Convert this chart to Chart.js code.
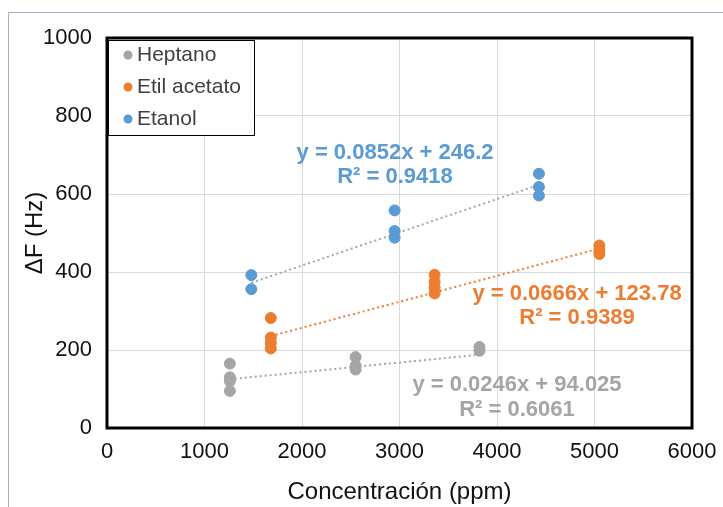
<!DOCTYPE html>
<html>
<head>
<meta charset="utf-8">
<script src="https://cdn.jsdelivr.net/npm/chart.js@4.4.1/dist/chart.umd.min.js"></script>
<style>
  html, body { margin: 0; padding: 0; background: #fff; }
  #wrap { width: 723px; height: 507px; position: relative; }
</style>
</head>
<body>
<div id="wrap"><canvas id="myChart" width="723" height="507"></canvas></div>
<script>
// series values
const seriesNames = ["Heptano", "Etil acetato", "Etanol"];
const seriesColors = ["#a5a5a5", "#ed7d31", "#5b9bd5"];
const trendColors = ["#a5a5a5", "#ed7d31", "#a5a5a5"];

const heptanoX = [1260, 1260, 1260, 1260, 2550, 2550, 2550, 3820, 3820];
const heptanoY = [165, 130, 120, 95, 182, 160, 150, 208, 198];
const etilX = [1680, 1680, 1680, 1680, 3360, 3360, 3360, 3360, 5050, 5050, 5050];
const etilY = [282, 232, 218, 204, 393, 375, 360, 345, 468, 455, 446];
const etanolX = [1480, 1480, 2950, 2950, 2950, 4430, 4430, 4430];
const etanolY = [392, 356, 558, 505, 488, 652, 618, 596];

// fitted trendlines as labelled on the chart
const slopes = [0.0246, 0.0666, 0.0852];
const intercepts = [94.025, 123.78, 246.2];
const equations = ["y = 0.0246x + 94.025", "y = 0.0666x + 123.78", "y = 0.0852x + 246.2"];
const rSquared = ["R² = 0.6061", "R² = 0.9389", "R² = 0.9418"];

const xTicks = [0, 1000, 2000, 3000, 4000, 5000, 6000];
const yTicks = [0, 200, 400, 600, 800, 1000];

const allX = [heptanoX, etilX, etanolX];
const allY = [heptanoY, etilY, etanolY];

const datasets = [];
allX.forEach(function (xs, i) {
  datasets.push({
    label: seriesNames[i],
    data: xs.map(function (x, j) { return { x: x, y: allY[i][j] }; }),
    backgroundColor: seriesColors[i],
    borderColor: seriesColors[i],
    pointRadius: 5.5,
    pointHoverRadius: 5.5,
    showLine: false,
    order: 1,
  });
});
allX.forEach(function (xs, i) {
  const lo = Math.min.apply(null, xs);
  const hi = Math.max.apply(null, xs);
  datasets.push({
    label: "trend " + i,
    data: [
      { x: lo, y: slopes[i] * lo + intercepts[i] },
      { x: hi, y: slopes[i] * hi + intercepts[i] },
    ],
    borderColor: trendColors[i],
    borderWidth: 2,
    borderDash: [2, 3],
    pointRadius: 0,
    showLine: true,
    fill: false,
    order: 2,
  });
});

// trend label centres in data coords: [x, y line 1, y line 2]
const labelSpots = [
  [4205, 110, 46],
  [4821, 344, 282],
  [2954, 705, 644],
];

const font = "'Liberation Sans', Arial, sans-serif";

const decor = {
  id: "decor",
  beforeDraw: function (chart) {
    const c = chart.ctx;
    c.save();
    c.strokeStyle = "#9fb3c8";
    c.lineWidth = 1;
    c.beginPath();
    c.moveTo(8.5, 507);
    c.lineTo(8.5, 12.5);
    c.lineTo(723, 12.5);
    c.stroke();
    c.restore();
  },
  afterDatasetsDraw: function (chart) {
    const c = chart.ctx;
    const a = chart.chartArea;
    const xs = chart.scales.x;
    const ys = chart.scales.y;
    c.save();
    // plot frame
    c.strokeStyle = "#000";
    c.lineWidth = 3;
    c.strokeRect(a.left, a.top, a.right - a.left, a.bottom - a.top);

    // trend labels
    c.font = "bold 22px " + font;
    c.textAlign = "center";
    c.textBaseline = "middle";
    labelSpots.forEach(function (s, i) {
      c.fillStyle = seriesColors[i];
      const px = xs.getPixelForValue(s[0]);
      c.fillText(equations[i], px, ys.getPixelForValue(s[1]));
      c.fillText(rSquared[i], px, ys.getPixelForValue(s[2]));
    });

    // legend box
    const lx = a.left + 1, ly = a.top + 2;
    c.fillStyle = "#fff";
    c.fillRect(lx, ly, 146, 95);
    c.strokeStyle = "#000";
    c.lineWidth = 1;
    c.strokeRect(lx + 0.5, ly + 0.5, 146, 95);
    c.font = "21px " + font;
    c.textAlign = "left";
    seriesNames.forEach(function (name, i) {
      const cy = ly + 15 + i * 32;
      c.fillStyle = seriesColors[i];
      c.beginPath();
      c.arc(lx + 20, cy, 4.5, 0, Math.PI * 2);
      c.fill();
      c.fillStyle = "#404040";
      c.fillText(name, lx + 29, cy);
    });
    c.restore();
  },
};

const ctx = document.getElementById("myChart").getContext("2d");
const myChart = new Chart(ctx, {
  type: "scatter",
  data: { datasets: datasets },
  plugins: [decor],
  options: {
    responsive: false,
    animation: false,
    layout: { padding: { top: 38, right: 31, left: 0, bottom: 0 } },
    plugins: {
      legend: { display: false },
      tooltip: { enabled: false },
    },
    scales: {
      x: {
        type: "linear",
        min: 0,
        max: 6000,
        afterBuildTicks: function (s) { s.ticks = xTicks.map(function (v) { return { value: v }; }); },
        afterFit: function (s) {
          s.height = 79;
          s.paddingLeft = 0;
          s.paddingRight = 0;
        },
        grid: { color: "#d9d9d9", drawTicks: false },
        border: { display: false },
        ticks: {
          color: "#111",
          padding: 11,
          font: { family: font, size: 22 },
          callback: function (v) { return String(v); },
        },
        title: {
          display: true,
          text: "Concentración (ppm)",
          color: "#111",
          font: { family: font, size: 24 },
          padding: { top: 2, bottom: 0 },
        },
      },
      y: {
        min: 0,
        max: 1000,
        afterBuildTicks: function (s) { s.ticks = yTicks.map(function (v) { return { value: v }; }); },
        afterFit: function (s) { s.width = 107; },
        grid: { color: "#d9d9d9", drawTicks: false },
        border: { display: false },
        ticks: {
          color: "#111",
          padding: 15,
          font: { family: font, size: 22 },
          callback: function (v) { return String(v); },
        },
        title: {
          display: true,
          text: "ΔF (Hz)",
          color: "#111",
          font: { family: font, size: 24 },
          padding: { top: 21, bottom: 0 },
        },
      },
    },
  },
});
</script>
</body>
</html>
